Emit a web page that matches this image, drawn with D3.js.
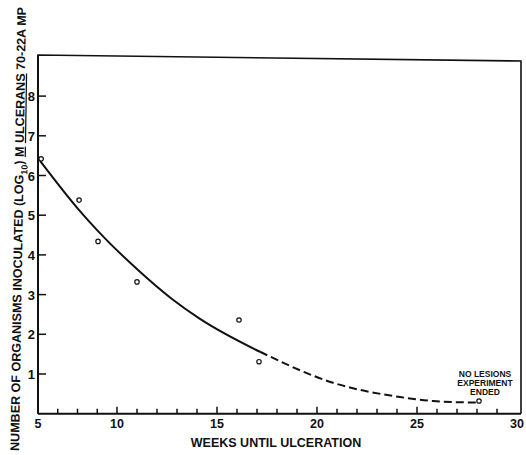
<!DOCTYPE html>
<meta charset="utf-8">
<style>
    body { margin: 0; background: #fff; }
    text { font-family: "Liberation Sans", Arial, sans-serif; font-weight: bold; fill: #111; }
</style>
<script src="https://cdn.jsdelivr.net/npm/d3@7"></script>
<div id="chart"></div>
<script>

    // observed points (weeks until ulceration, log10 organisms)
    var weeks = [5.2, 7.6, 8.8, 11, 16.1, 17.1, 28.1];
    var logDose = [6.42, 5.38, 4.34, 3.32, 2.36, 1.31, 0.32];

    // hand drawn fitted curve, solid part then dashed part
    var solidWeeks = [5.13, 7.6, 8.8, 11.05, 12.7, 14.15, 17.15];
    var solidLog = [6.37, 5.13, 4.6, 3.62, 2.91, 2.39, 1.56];
    var dashWeeks = [17.15, 20.8, 24.15, 25.8, 27.95];
    var dashLog = [1.56, 0.78, 0.42, 0.32, 0.28];

    var xTickLabels = [5, 10, 15, 20, 25, 30];
    var xMinorTicks = [6.25, 7.5, 8.75, 11, 12, 13, 14, 16, 17, 18, 19, 21, 22, 23, 24, 26, 27, 28, 29];
    var yTickLabels = [1, 2, 3, 4, 5, 6, 7, 8];
    var note = ["NO LESIONS", "EXPERIMENT", "ENDED"];

    var width = 526, height = 455;

    var svg = d3.select("#chart").append("svg")
        .attr("width", width)
        .attr("height", height);

    // the original axis squeezes 5-10 into a shorter stretch
    var x = d3.scaleLinear().domain([5, 10, 30]).range([38, 117, 517]);
    var y = d3.scaleLinear().domain([0, 9]).range([413.7, 56.4]);

    var left = x(5), bottom = y(0), frameRight = 521;

    // frame (top edge sits a bit crooked in the scan)
    svg.append("path")
        .attr("d", "M" + left + "," + bottom + "V" + 55 + "L" + frameRight + "," + 61 + "V" + bottom)
        .attr("fill", "none")
        .attr("stroke", "#111")
        .attr("stroke-width", 1.6);

    // x axis
    var xAxis = svg.append("g").attr("transform", "translate(0," + bottom + ")");
    xAxis.append("line")
        .attr("x1", left).attr("x2", frameRight)
        .attr("stroke", "#111").attr("stroke-width", 2);
    xAxis.selectAll(".minor").data(xMinorTicks).enter().append("line")
        .attr("x1", x).attr("x2", x).attr("y1", 0).attr("y2", -5)
        .attr("stroke", "#111").attr("stroke-width", 1.5);
    xAxis.selectAll(".major").data(xTickLabels.slice(1, 5)).enter().append("line")
        .attr("x1", x).attr("x2", x).attr("y1", 0).attr("y2", -7)
        .attr("stroke", "#111").attr("stroke-width", 1.5);
    xAxis.selectAll("text").data(xTickLabels).enter().append("text")
        .attr("x", x).attr("y", 14.5)
        .attr("text-anchor", "middle")
        .style("font-size", "12.5px")
        .text(function (d) { return d; });

    svg.append("text")
        .attr("x", 276).attr("y", 447)
        .attr("text-anchor", "middle")
        .style("font-size", "12.5px")
        .text("WEEKS UNTIL ULCERATION");

    // y axis
    var yAxis = svg.append("g").attr("transform", "translate(" + left + ",0)");
    yAxis.append("line")
        .attr("y1", bottom).attr("y2", 55)
        .attr("stroke", "#111").attr("stroke-width", 2);
    yAxis.selectAll(".tick").data(yTickLabels).enter().append("line")
        .attr("y1", y).attr("y2", y).attr("x1", 0).attr("x2", 8)
        .attr("stroke", "#111").attr("stroke-width", 1.5);
    yAxis.selectAll("text").data(yTickLabels).enter().append("text")
        .attr("x", -3).attr("y", function (d) { return y(d) + 5; })
        .attr("text-anchor", "end")
        .style("font-size", "13px")
        .text(function (d) { return d; });

    // rotated y label with subscript and underlines
    var ylab = svg.append("text")
        .attr("transform", "translate(22.5,229) rotate(-89.1)")
        .attr("text-anchor", "middle")
        .attr("textLength", 444)
        .attr("lengthAdjust", "spacingAndGlyphs")
        .style("font-size", "12.5px");
    ylab.append("tspan").text("NUMBER OF ORGANISMS INOCULATED (LOG");
    ylab.append("tspan").attr("dy", 4).style("font-size", "9px").text("10");
    ylab.append("tspan").attr("dy", -4).text(") ");
    ylab.append("tspan").style("text-decoration", "underline").text("M");
    ylab.append("tspan").text(" ");
    ylab.append("tspan").style("text-decoration", "underline").text("ULCERANS");
    ylab.append("tspan").text(" 70-22A MP");

    // fitted curve
    var line = d3.line()
        .x(function (d) { return x(d[0]); })
        .y(function (d) { return y(d[1]); })
        .curve(d3.curveMonotoneX);

    svg.append("path")
        .datum(d3.zip(solidWeeks, solidLog))
        .attr("d", line)
        .attr("fill", "none")
        .attr("stroke", "#111")
        .attr("stroke-width", 2);

    svg.append("path")
        .datum(d3.zip(dashWeeks, dashLog))
        .attr("d", line)
        .attr("fill", "none")
        .attr("stroke", "#111")
        .attr("stroke-width", 2)
        .attr("stroke-dasharray", "8,4");

    // observed points
    svg.selectAll("circle")
        .data(d3.zip(weeks, logDose))
        .enter().append("circle")
        .attr("cx", function (d) { return x(d[0]); })
        .attr("cy", function (d) { return y(d[1]); })
        .attr("r", 2.2)
        .attr("fill", "#fff")
        .attr("stroke", "#111")
        .attr("stroke-width", 1.2);

    // note at last point
    svg.selectAll(".note").data(note).enter().append("text")
        .attr("x", 485)
        .attr("y", function (d, i) { return 377 + i * 9; })
        .attr("text-anchor", "middle")
        .style("font-size", "8.5px")
        .text(function (d) { return d; });

</script>
